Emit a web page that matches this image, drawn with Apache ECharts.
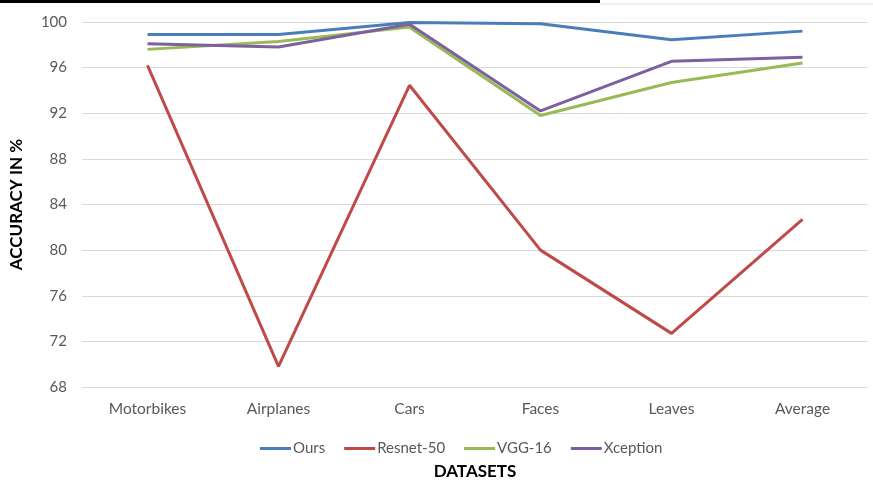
<!DOCTYPE html>
<html><head><meta charset="utf-8">
<script src="https://cdn.jsdelivr.net/npm/echarts@6/dist/echarts.min.js"></script>
<style>html,body{margin:0;padding:0;background:#fff}#c{width:873px;height:485px}</style>
</head><body><div id="c"></div>
<script>
const categories = ['Motorbikes','Airplanes','Cars','Faces','Leaves','Average'];
const ours     = [98.9, 98.9, 99.95, 99.85, 98.45, 99.2];
const resnet50 = [96.2, 69.8, 94.45, 80.0, 72.7, 82.7];
const vgg16    = [97.6, 98.3, 99.55, 91.8, 94.7, 96.4];
const xception = [98.1, 97.8, 99.8, 92.2, 96.55, 96.9];
const yTicks = {min: 68, max: 100, step: 4};

const FONT = 'Lato, "Open Sans", sans-serif';
const chart = echarts.init(document.getElementById('c'), null, {renderer: 'canvas'});
function mk(name, data, color) {
  return {name, type: 'line', data, symbol: 'none', smooth: false,
    lineStyle: {width: 3, color}, itemStyle: {color}};
}
chart.setOption({
  animation: false,
  backgroundColor: '#fff',
  textStyle: {fontFamily: FONT},
  graphic: [
    {type: 'rect', shape: {x: 0, y: 0, width: 600, height: 3}, style: {fill: '#000'}},
    {type: 'rect', shape: {x: 600, y: 3, width: 273, height: 2}, style: {fill: '#f0f0f0'}}
  ],
  grid: {left: 81, right: 5, top: 22, bottom: 93, containLabel: false},
  legend: {
    top: 436, left: 255, itemWidth: 31, itemHeight: 3, itemGap: 19, icon: 'rect',
    textStyle: {fontSize: 15, color: '#595959', fontFamily: FONT, padding: [0, 0, 0, -3]},
    data: ['Ours', 'Resnet-50', 'VGG-16', 'Xception']
  },
  xAxis: {
    type: 'category', data: categories, boundaryGap: true,
    name: 'DATASETS', nameLocation: 'middle', nameGap: 76,
    nameTextStyle: {fontSize: 17, fontWeight: 'bold', color: '#000', fontFamily: FONT},
    axisLine: {show: false}, axisTick: {show: false},
    axisLabel: {fontSize: 15.5, color: '#595959', margin: 14, fontFamily: FONT}
  },
  yAxis: {
    type: 'value', min: yTicks.min, max: yTicks.max, interval: yTicks.step,
    name: 'ACCURACY IN %', nameLocation: 'middle', nameGap: 57, nameRotate: 90,
    nameTextStyle: {fontSize: 17, fontWeight: 'bold', color: '#000', fontFamily: FONT},
    axisLine: {show: false}, axisTick: {show: false},
    axisLabel: {fontSize: 15, color: '#595959', margin: 15, fontFamily: FONT},
    splitLine: {lineStyle: {color: '#d9d9d9', width: 1}}
  },
  series: [
    mk('Ours', ours, '#4a7ebb'),
    mk('Resnet-50', resnet50, '#be4b48'),
    mk('VGG-16', vgg16, '#98b954'),
    mk('Xception', xception, '#7d60a0')
  ]
});
</script></body></html>
